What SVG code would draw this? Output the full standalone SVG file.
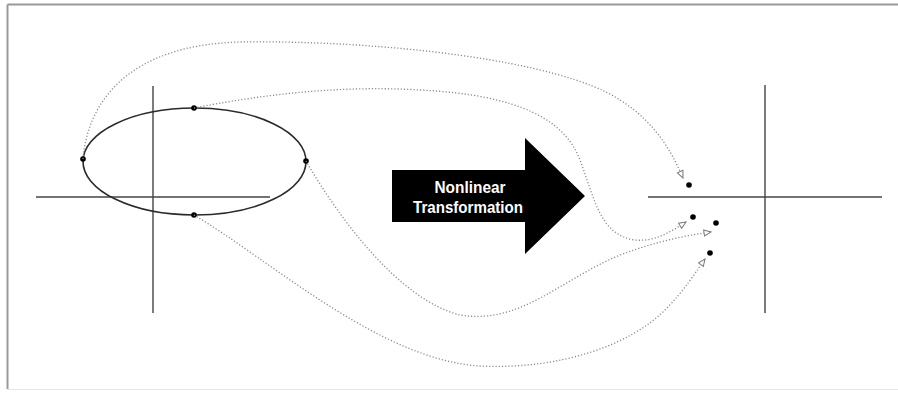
<svg xmlns="http://www.w3.org/2000/svg" width="898" height="393" viewBox="0 0 898 393">
<style>
.axis{stroke:#444;stroke-width:1.4;fill:none}
.ell{stroke:#2a2a2a;stroke-width:1.6;fill:none}
.dot{fill:#000}
.conn{stroke:#8a8a8a;stroke-width:1.3;fill:none;stroke-dasharray:1.2 2;marker-end:url(#ah)}
.lbl{font-family:"Liberation Sans",Arial,sans-serif;font-weight:bold;font-size:17px;fill:#fff;text-anchor:middle}
</style>
<defs>
<marker id="ah" markerWidth="10" markerHeight="8" refX="8" refY="4" orient="auto" markerUnits="userSpaceOnUse">
<path d="M1,1 L8,4 L1,7 Z" fill="#fff" stroke="#777" stroke-width="1"/>
</marker>
</defs>
<rect x="0" y="0" width="898" height="393" fill="#fff"/>
<g id="frame">
<line x1="7.5" y1="4.5" x2="898" y2="4.5" stroke="#999" stroke-width="2"/>
<line x1="7.5" y1="4.5" x2="7.5" y2="389" stroke="#999" stroke-width="2"/>
<line x1="7.5" y1="389.5" x2="898" y2="389.5" stroke="#e6e6e6" stroke-width="1"/>
</g>
<g id="left-axes">
<line class="axis" x1="36" y1="197" x2="270" y2="197"/>
<line class="axis" x1="153" y1="86" x2="153" y2="313"/>
</g>
<g id="ellipse">
<ellipse class="ell" cx="194.5" cy="161.5" rx="111.5" ry="53.5"/>
</g>
<g id="source-points">
<circle class="dot" cx="83" cy="159" r="2.8"/>
<circle class="dot" cx="194" cy="108" r="2.8"/>
<circle class="dot" cx="306" cy="161" r="2.8"/>
<circle class="dot" cx="194" cy="215" r="2.8"/>
</g>
<g id="right-axes">
<line class="axis" x1="648" y1="197" x2="882" y2="197"/>
<line class="axis" x1="765" y1="85" x2="765" y2="313"/>
</g>
<g id="target-points">
<circle class="dot" cx="689" cy="185" r="2.8"/>
<circle class="dot" cx="693" cy="217" r="2.8"/>
<circle class="dot" cx="716" cy="223" r="2.8"/>
<circle class="dot" cx="710" cy="253" r="2.8"/>
</g>
<g id="transform-arrow">
<path d="M392,170 L525,170 L525,138 L585,196 L525,254 L525,222 L392,222 Z" fill="#000"/>
<text class="lbl" x="470" y="193" textLength="71" lengthAdjust="spacingAndGlyphs">Nonlinear</text>
<text class="lbl" x="468" y="213" textLength="110" lengthAdjust="spacingAndGlyphs">Transformation</text>
</g>
<g id="connectors">
<path class="conn" d="M83,159 C88,100 130,45 240,42 C380,40 560,60 620,100 C660,125 675,160 683,178"/>
<path class="conn" d="M194,108 C260,95 340,85 420,90 C520,95 565,120 580,160 C595,200 600,235 635,240 C655,242 670,232 686,222"/>
<path class="conn" d="M306,161 C340,220 400,300 460,315 C520,325 560,280 620,255 C660,240 690,235 711,232"/>
<path class="conn" d="M194,215 C270,260 380,360 480,366 C560,370 630,345 665,310 C685,290 697,270 705,259"/>
</g>
</svg>
